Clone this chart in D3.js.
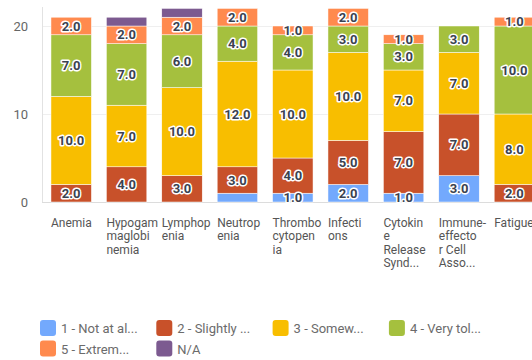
<!DOCTYPE html>
<html>
<head>
<meta charset="utf-8">
<script src="https://cdn.jsdelivr.net/npm/d3@7"></script>
<style>
  html, body { margin: 0; padding: 0; background: #fff; overflow: hidden; }
  svg { display: block; font-family: Roboto, "Open Sans", sans-serif; }
</style>
</head>
<body>
<svg id="chart" width="532" height="360"></svg>
<script>
// categories as shown on the x axis (already wrapped the way the picture wraps them)
var categories = ["Anemia", "Hypogammaglobinemia", "Lymphopenia", "Neutropenia", "Thrombocytopenia",
                  "Infections", "Cytokine Release Syndrome", "Immune-effector Cell Associated", "Fatigue"];
var categoryLines = [
  ["Anemia"], ["Hypogam", "maglobi", "nemia"], ["Lymphop", "enia"], ["Neutrop", "enia"],
  ["Thrombo", "cytopen", "ia"], ["Infecti", "ons"], ["Cytokin", "e", "Release", "Synd..."],
  ["Immune-", "effecto", "r Cell", "Asso..."], ["Fatigue"]
];

var seriesNames = ["1 - Not at al...", "2 - Slightly ...", "3 - Somew...", "4 - Very tol...", "5 - Extrem...", "N/A"];
var seriesColors = ["#73a9fd", "#c8512a", "#f8be00", "#a5c03e", "#ff8a4e", "#7c5a90"];

// one array per answer, one value per category
var notAtAll  = [0, 0, 0, 1, 1, 2, 1, 3, 0];
var slightly  = [2, 4, 3, 3, 4, 5, 7, 7, 2];
var somewhat  = [10, 7, 10, 12, 10, 10, 7, 7, 8];
var very      = [7, 7, 6, 4, 4, 3, 3, 3, 10];
var extremely = [2, 2, 2, 2, 1, 2, 1, 0, 1];
var na        = [0, 1, 1, 0, 0, 0, 0, 0, 0];

var yTicks = [0, 10, 20];
// labels the original chart leaves off
var hiddenLabels = [["Neutropenia", 0]];

var seriesValues = [notAtAll, slightly, somewhat, very, extremely, na];
var rows = categories.map(function(c, i) {
  var r = { cat: c };
  seriesValues.forEach(function(s, k) { r[k] = s[i]; });
  return r;
});
var stacked = d3.stack().keys(d3.range(seriesValues.length))(rows);

var svg = d3.select("#chart");
var y = d3.scaleLinear().domain([0, 20]).range([202, 26]);
var x = d3.scaleBand().domain(categories).range([42, 543.6])
  .paddingInner(0.27).paddingOuter(0.162);

// gridlines
svg.append("g").selectAll("line").data(yTicks).join("line")
  .attr("x1", 42).attr("x2", 532)
  .attr("y1", function(d) { return y(d) + 0.5; }).attr("y2", function(d) { return y(d) + 0.5; })
  .attr("stroke", function(d) { return d === 0 ? "#dcdcdc" : "#efefef"; });
svg.append("line").attr("x1", 42.5).attr("x2", 42.5).attr("y1", 7).attr("y2", 202)
  .attr("stroke", "#e2e2e2");

svg.append("g").selectAll("text").data(yTicks).join("text")
  .attr("x", 28).attr("y", function(d) { return y(d) + 4.5; })
  .attr("text-anchor", "end").attr("font-size", 13).attr("fill", "#666")
  .text(function(d) { return d; });

// bars
var layers = svg.append("g").selectAll("g").data(stacked).join("g")
  .attr("fill", function(d, k) { return seriesColors[k]; });
layers.selectAll("rect").data(function(d) { return d; }).join("rect")
  .attr("x", function(d) { return x(d.data.cat); })
  .attr("width", x.bandwidth())
  .attr("y", function(d) { return y(d[1]); })
  .attr("height", function(d) { return y(d[0]) - y(d[1]); })
  .attr("stroke", "#fff").attr("stroke-width", 0.5);

// value labels
var labelData = [];
stacked.forEach(function(layer, k) {
  if (seriesNames[k] === "N/A") return;
  layer.forEach(function(d) {
    var v = d[1] - d[0];
    if (v <= 0) return;
    var hidden = hiddenLabels.some(function(h) { return h[0] === d.data.cat && h[1] === k; });
    if (hidden) return;
    labelData.push({ cat: d.data.cat, mid: (d[0] + d[1]) / 2, v: v });
  });
});
svg.append("g").selectAll("text").data(labelData).join("text")
  .attr("x", function(d) { return x(d.cat) + x.bandwidth() / 2; })
  .attr("y", function(d) { return y(d.mid) + 4.5; })
  .attr("text-anchor", "middle").attr("font-size", 13).attr("font-weight", "bold")
  .attr("fill", "#3b4250").attr("stroke", "#fff").attr("stroke-width", 3)
  .attr("paint-order", "stroke").attr("stroke-linejoin", "round")
  .text(function(d) { return d3.format(".1f")(d.v); });

// x labels
var xl = svg.append("g").selectAll("text").data(categories).join("text")
  .attr("x", function(d) { return x(d); })
  .attr("y", 227)
  .attr("font-size", 12).attr("fill", "#555");
xl.selectAll("tspan").data(function(d, i) { return categoryLines[i]; }).join("tspan")
  .attr("x", function() { return x(d3.select(this.parentNode).datum()); })
  .attr("dy", function(d, j) { return j === 0 ? 0 : 13.3; })
  .text(function(d) { return d; });

// legend
var legend = svg.append("g").selectAll("g").data(seriesNames).join("g")
  .attr("transform", function(d, i) {
    return "translate(" + (40 + (i % 4) * 116.3) + "," + (320 + Math.floor(i / 4) * 20.5) + ")";
  });
legend.append("rect").attr("width", 16).attr("height", 16).attr("rx", 3)
  .attr("fill", function(d, i) { return seriesColors[i]; });
legend.append("text").attr("x", 21).attr("y", 13).attr("font-size", 13).attr("fill", "#6b6b6b")
  .text(function(d) { return d; });
</script>
</body>
</html>
